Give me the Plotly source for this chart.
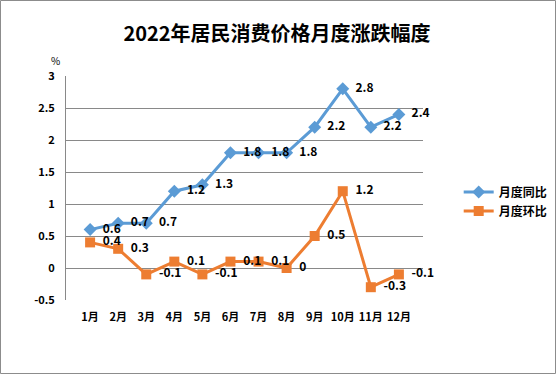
import plotly.graph_objects as go

months = ["1月", "2月", "3月", "4月", "5月", "6月", "7月", "8月", "9月", "10月", "11月", "12月"]
yoy = [0.6, 0.7, 0.7, 1.2, 1.3, 1.8, 1.8, 1.8, 2.2, 2.8, 2.2, 2.4]
mom = [0.4, 0.3, -0.1, 0.1, -0.1, 0.1, 0.1, 0, 0.5, 1.2, -0.3, -0.1]
y_ticks = [-0.5, 0, 0.5, 1, 1.5, 2, 2.5, 3]

W, H = 556, 374
L, R, T, B = 66, 133, 76, 74
FONT = "Noto Sans CJK SC"

fig = go.Figure()
fig.add_trace(go.Scatter(
    x=months, y=yoy, name="月度同比", mode="lines+markers+text",
    line=dict(color="#5B9BD5", width=3),
    marker=dict(symbol="diamond", size=10, color="#5B9BD5"),
    text=["  " + str(v) for v in yoy], textposition="middle right",
    textfont=dict(family=FONT, size=12, color="#000000", weight="bold"),
    cliponaxis=False,
))
fig.add_trace(go.Scatter(
    x=months, y=mom, name="月度环比", mode="lines+markers+text",
    line=dict(color="#ED7D31", width=3),
    marker=dict(symbol="square", size=10, color="#ED7D31"),
    text=["  " + str(v) for v in mom], textposition="middle right",
    textfont=dict(family=FONT, size=12, color="#000000", weight="bold"),
    cliponaxis=False,
))

pw = W - L - R
ph = H - T - B
fig.add_shape(type="rect", xref="paper", yref="paper",
              x0=-(L - 0.5) / pw, x1=(W - L - 0.5) / pw,
              y0=-(B - 0.5) / ph, y1=(H - B - 0.5) / ph,
              line=dict(color="#8C8C8C", width=1), fillcolor="rgba(0,0,0,0)", layer="below")

fig.update_layout(
    width=W, height=H,
    margin=dict(l=L, r=R, t=T, b=B, autoexpand=False),
    paper_bgcolor="white", plot_bgcolor="white",
    title=dict(text="<b>2022年居民消费价格月度涨跌幅度</b>", x=277 / W, xanchor="center",
               y=1 - 34 / H, yanchor="middle",
               font=dict(family=FONT, size=20, color="#000000")),
    font=dict(family=FONT, color="#000000"),
    xaxis=dict(type="category", showgrid=False, showline=False, ticks="",
               tickangle=0, automargin=False,
               tickfont=dict(family=FONT, size=11, color="#000000", weight="bold"),
               zeroline=False, ticklabelstandoff=9),
    yaxis=dict(range=[-0.5, 3], tickvals=y_ticks, ticktext=[str(v) for v in y_ticks],
               automargin=False,
               showgrid=True, gridcolor="#898989", gridwidth=1,
               showline=True, linecolor="#898989", linewidth=1,
               zeroline=True, zerolinecolor="#898989", zerolinewidth=1,
               tickfont=dict(family=FONT, size=11, color="#000000", weight="bold"),
               ticklabelstandoff=8),
    legend=dict(x=1.1, xanchor="left", y=0.44, yanchor="middle",
                font=dict(family=FONT, size=12, color="#000000", weight="bold"),
                bgcolor="rgba(0,0,0,0)", itemwidth=30, tracegroupgap=0),
    showlegend=True,
)
fig.add_annotation(text="%", xref="paper", yref="paper", x=(55 - L) / pw, y=(H - B - 61) / ph,
                   showarrow=False, xanchor="center", yanchor="middle",
                   font=dict(family=FONT, size=10, color="#000000"))

fig.write_html("out.html", config={"displayModeBar": False},
               post_script="document.body.style.margin='0';document.body.style.overflow='hidden';")
